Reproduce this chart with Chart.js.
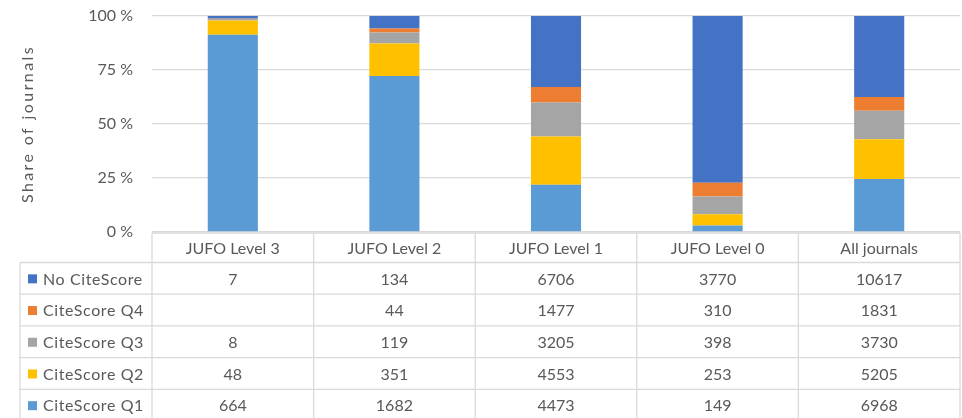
<!DOCTYPE html>
<html><head><meta charset="utf-8">
<script src="https://cdn.jsdelivr.net/npm/chart.js@4"></script>
<style>html,body{margin:0;padding:0;background:#fff;}#wrap{width:962px;height:418px;}</style>
</head><body><div id="wrap"><canvas id="c" width="962" height="418"></canvas></div>
<script>
const categories = ['JUFO Level 3', 'JUFO Level 2', 'JUFO Level 1', 'JUFO Level 0', 'All journals'];
const seriesNames = ['CiteScore Q1', 'CiteScore Q2', 'CiteScore Q3', 'CiteScore Q4', 'No CiteScore'];
const citeScoreQ1 = [664, 1682, 4473, 149, 6968];
const citeScoreQ2 = [48, 351, 4553, 253, 5205];
const citeScoreQ3 = [8, 119, 3205, 398, 3730];
const citeScoreQ4 = [null, 44, 1477, 310, 1831];
const noCiteScore = [7, 134, 6706, 3770, 10617];
const yTickValues = [0, 25, 50, 75, 100];
const yTitle = 'Share of journals';

const colors = ['#5B9BD5', '#FFC000', '#A5A5A5', '#ED7D31', '#4472C4'];
const FONT = 'Lato';
const TEXT = '#595959';
const LINE = '#D9D9D9';

const series = [citeScoreQ1, citeScoreQ2, citeScoreQ3, citeScoreQ4, noCiteScore];
const totals = categories.map((_, i) => series.reduce((s, a) => s + (a[i] || 0), 0));

const datasets = series.map((arr, k) => ({
  label: seriesNames[k],
  data: arr.map((v, i) => v == null ? null : v / totals[i] * 100),
  backgroundColor: colors[k],
  borderWidth: 0,
  barPercentage: 1,
  categoryPercentage: 0.31
}));

const tablePlugin = {
  id: 'dataTable',
  afterDraw(chart) {
    const { ctx, chartArea } = chart;
    const xs = chart.scales.x;
    const n = categories.length;
    const colW = chartArea.width / n;
    const left = chartArea.left, right = chartArea.right;
    const legLeft = 20;
    const headTop = chartArea.bottom + 1;
    const headBot = 262.5;
    const rowH = 31.7;
    const rows = series.length;
    const bottom = headBot + rowH * rows;
    ctx.save();
    ctx.strokeStyle = LINE;
    ctx.lineWidth = 1.3;
    const hline = (y, x0, x1) => { ctx.beginPath(); ctx.moveTo(x0, y); ctx.lineTo(x1, y); ctx.stroke(); };
    const vline = (x, y0, y1) => { ctx.beginPath(); ctx.moveTo(x, y0); ctx.lineTo(x, y1); ctx.stroke(); };
    hline(headTop, left, right);
    for (let r = 0; r <= rows; r++) hline(headBot + r * rowH, legLeft, right);
    vline(legLeft, headBot, bottom);
    for (let c = 0; c <= n; c++) vline(left + c * colW, headTop, bottom);

    ctx.fillStyle = TEXT;
    ctx.font = '16px ' + FONT;
    ctx.textAlign = 'center';
    ctx.textBaseline = 'middle';
    categories.forEach((cat, i) => {
      ctx.fillText(cat, xs.getPixelForValue(i), (headTop + headBot) / 2 + 1);
    });
    for (let r = 0; r < rows; r++) {
      const k = rows - 1 - r;
      const yc = headBot + r * rowH + rowH / 2;
      ctx.fillStyle = colors[k];
      ctx.fillRect(28, yc - 4, 9, 9);
      ctx.fillStyle = TEXT;
      ctx.textAlign = 'left';
      ctx.save();
      ctx.letterSpacing = '0.6px';
      ctx.fillText(seriesNames[k], 43, yc + 1);
      ctx.restore();
      ctx.textAlign = 'center';
      series[k].forEach((v, i) => {
        if (v != null) ctx.fillText(String(v), xs.getPixelForValue(i), yc + 1);
      });
    }

    // y-axis title
    ctx.save();
    ctx.translate(28, (chartArea.top + chartArea.bottom) / 2);
    ctx.rotate(-Math.PI / 2);
    ctx.font = '16px ' + FONT;
    ctx.letterSpacing = '2.4px';
    ctx.textAlign = 'center';
    ctx.textBaseline = 'middle';
    ctx.fillStyle = TEXT;
    ctx.fillText(yTitle, 0, 0);
    ctx.restore();
    ctx.restore();
  }
};

new Chart(document.getElementById('c'), {
  type: 'bar',
  data: { labels: categories, datasets },
  options: {
    responsive: false,
    animation: false,
    layout: { padding: { top: 16, bottom: 186, left: 0, right: 2 } },
    plugins: { legend: { display: false }, tooltip: { enabled: false } },
    scales: {
      x: { display: false, stacked: true },
      y: {
        stacked: true, min: 0, max: 100,
        afterFit(s) { s.width = 152; s.paddingTop = 0; s.paddingBottom = 0; },
        afterBuildTicks(s) { s.ticks = yTickValues.map(v => ({ value: v })); },
        ticks: { padding: 19, color: TEXT, font: { family: FONT, size: 16 }, callback: v => v + ' %' },
        grid: { color: LINE, lineWidth: 1.3, drawTicks: false },
        border: { display: false },
        title: { display: false }
      }
    }
  },
  plugins: [tablePlugin]
});
</script>
</body></html>
